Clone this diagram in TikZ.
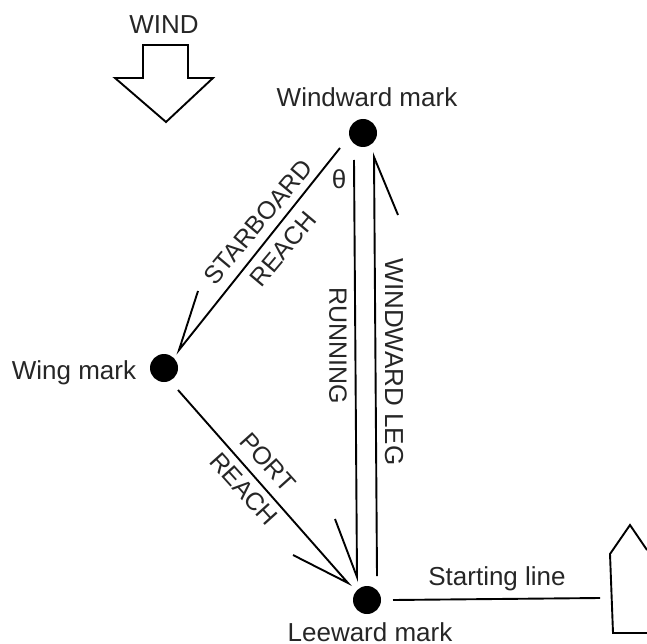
\documentclass[tikz,border=0pt]{standalone}
\usepackage{fontspec}
\setmainfont{Liberation Sans}
\begin{document}
\begin{tikzpicture}[x=1pt,y=-1pt,
  mark dot/.style={circle,fill=black,minimum size=28pt,inner sep=0pt},
  leg/.style={draw=black,line width=1.9pt},
  lab/.style={font=\fontsize{26}{28}\selectfont,text=black!85,inner sep=0pt},
  rlab/.style={font=\fontsize{25}{27}\selectfont,text=black!85,inner sep=0pt},
  outline/.style={draw=black,line width=1.9pt,line join=miter}]
\useasboundingbox (0,0) rectangle (647,644);
\node[mark dot] (W) at (363,133) {};
\node[mark dot] (G) at (164,368) {};
\node[mark dot] (L) at (367,600) {};
\coordinate (wl1) at (354,160);
\coordinate (wl2) at (357,577);
\coordinate (wr1) at (374,157);
\coordinate (wr2) at (377,576);
\coordinate (wtip) at (398,215);
\coordinate (s1) at (340,148);
\coordinate (s2) at (179,350);
\coordinate (stip) at (198,291);
\coordinate (p1) at (178,390);
\coordinate (p2) at (348,583);
\coordinate (ptip) at (293,555);
\coordinate (rtip) at (335,519);
\coordinate (sl) at (393,600);
\coordinate (sr) at (600,598);
\draw[leg] (wl1) -- (wl2) -- (rtip);
\draw[leg] (wr2) -- (wr1) -- (wtip);
\draw[leg] (s1) -- (s2) -- (stip);
\draw[leg] (p1) -- (p2) -- (ptip);
\draw[leg] (sl) -- (sr);
\draw[outline] (143,78) -- (143,45) -- (188,45) -- (188,78) -- (213,78) -- (166,122) -- (115,78) -- cycle;
\draw[outline] (647,550) -- (630,525) -- (610,554) -- (613,633) -- (647,633);
\node[lab] (t1) at (164,25) {WIND};
\node[lab] (t2) at (367,97) {Windward mark};
\node[lab] (t3) at (74,373) {Wing mark};
\node[lab] (t4) at (497,579) {Starting line};
\node[lab] (t5) at (370,632) {Leeward mark};
\node[lab] (t6) at (339,179) {θ};
\node[rlab,rotate=50] (t7) at (258,222) {STARBOARD};
\node[rlab,rotate=50] (t8) at (283,249) {REACH};
\node[rlab,rotate=-90] (t9) at (338,346) {RUNNING};
\node[lab,rotate=-90] (t10) at (394,362) {WINDWARD LEG};
\node[rlab,rotate=-48] (t11) at (268,462) {PORT};
\node[rlab,rotate=-48] (t12) at (244,489) {REACH};
\end{tikzpicture}
\end{document}
